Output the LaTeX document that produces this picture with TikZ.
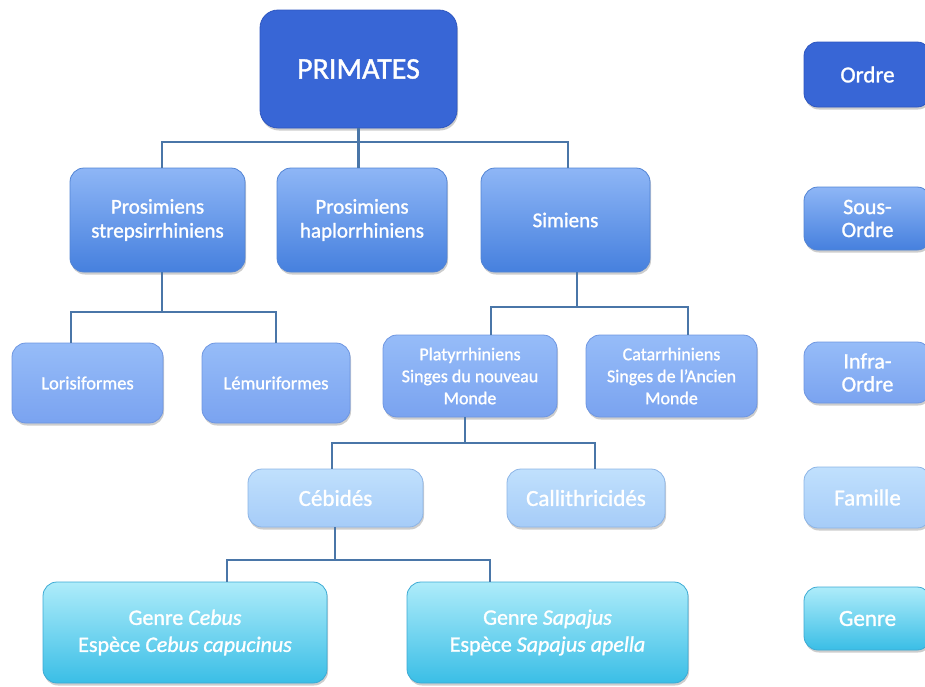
\documentclass[tikz,border=0pt]{standalone}
\usepackage{fontspec}
\setmainfont{Carlito}[FakeBold=1.2]
\usetikzlibrary{shadows}
\definecolor{cOrdre}{RGB}{56,102,214}
\definecolor{cOrdreB}{RGB}{45,86,192}
\definecolor{cSousT}{RGB}{142,182,246}
\definecolor{cSousB}{RGB}{70,128,222}
\definecolor{cSousBd}{RGB}{82,132,212}
\definecolor{cInfraT}{RGB}{150,188,248}
\definecolor{cInfraB}{RGB}{122,163,240}
\definecolor{cInfraBd}{RGB}{110,150,225}
\definecolor{cFamT}{RGB}{192,224,253}
\definecolor{cFamB}{RGB}{166,204,248}
\definecolor{cFamBd}{RGB}{140,180,230}
\definecolor{cGenT}{RGB}{174,236,250}
\definecolor{cGenB}{RGB}{58,190,230}
\definecolor{cGenBd}{RGB}{60,170,212}
\definecolor{cLine}{RGB}{74,118,168}
\begin{document}
\begin{tikzpicture}[x=1pt,y=-1pt,
  box/.style={rounded corners=14pt, align=center, text=white, inner sep=0pt,
    draw, line width=0.8pt,
    drop shadow={shadow xshift=1pt,shadow yshift=-2.5pt,opacity=0.28,fill=black!70}},
  ordrebox/.style={box, fill=cOrdre, draw=cOrdreB},
  sousbox/.style={box, top color=cSousT, bottom color=cSousB, draw=cSousBd},
  infrabox/.style={box, top color=cInfraT, bottom color=cInfraB, draw=cInfraBd},
  fambox/.style={box, top color=cFamT, bottom color=cFamB, draw=cFamBd},
  genbox/.style={box, top color=cGenT, bottom color=cGenB, draw=cGenBd},
  conn/.style={draw=cLine, line width=2.5pt}
]
\useasboundingbox (0,0) rectangle (925,686);
\clip (0,0) rectangle (925,686);

% main tree
\node[ordrebox, rounded corners=18pt, minimum width=197pt, minimum height=118pt,
  font=\fontsize{30}{34}\selectfont] (prim) at (358.5,69) {PRIMATES};

\node[sousbox, minimum width=175pt, minimum height=104pt,
  font=\fontsize{21}{24}\selectfont] (strep) at (157.5,220) {Prosimiens\\strepsirrhiniens};
\node[sousbox, minimum width=170pt, minimum height=104pt,
  font=\fontsize{21}{24}\selectfont] (haplo) at (362,220) {Prosimiens\\haplorrhiniens};
\node[sousbox, minimum width=169pt, minimum height=104pt,
  font=\fontsize{21}{24}\selectfont] (sim) at (565.5,220) {Simiens};

\node[infrabox, minimum width=151pt, minimum height=80pt,
  font=\fontsize{18.5}{22}\selectfont] (loris) at (87.5,383) {Lorisiformes};
\node[infrabox, minimum width=148pt, minimum height=80pt,
  font=\fontsize{18.5}{22}\selectfont] (lemur) at (276,383) {Lémuriformes};
\node[infrabox, minimum width=174pt, minimum height=82pt,
  font=\fontsize{18}{22}\selectfont] (platy) at (470,376) {Platyrrhiniens\\Singes du nouveau\\Monde};
\node[infrabox, minimum width=171pt, minimum height=82pt,
  font=\fontsize{18}{22}\selectfont] (cata) at (671.5,376) {Catarrhiniens\\Singes de l’Ancien\\Monde};

\node[fambox, minimum width=175pt, minimum height=58pt,
  font=\fontsize{23}{26}\selectfont] (cebides) at (335.5,498) {Cébidés};
\node[fambox, minimum width=158pt, minimum height=58pt,
  font=\fontsize{23}{26}\selectfont] (calli) at (586,498) {Callithricidés};

\node[genbox, minimum width=284pt, minimum height=101pt,
  font=\fontsize{22}{27}\selectfont] (cebus) at (185,632.5)
  {Genre {\itshape Cebus}\\Espèce {\itshape Cebus capucinus}};
\node[genbox, minimum width=281pt, minimum height=101pt,
  font=\fontsize{22}{27}\selectfont] (sapajus) at (547.5,632.5)
  {Genre {\itshape Sapajus}\\Espèce {\itshape Sapajus apella}};

% legend
\node[ordrebox, minimum width=127pt, minimum height=65pt,
  font=\fontsize{23}{25}\selectfont] (lordre) at (867.5,74.5) {Ordre};
\node[sousbox, minimum width=127pt, minimum height=63pt,
  font=\fontsize{22}{23}\selectfont] (lsous) at (867.5,218.5) {Sous-\\Ordre};
\node[infrabox, minimum width=127pt, minimum height=61pt,
  font=\fontsize{22}{23}\selectfont] (linfra) at (867.5,372.5) {Infra-\\Ordre};
\node[fambox, minimum width=127pt, minimum height=61pt,
  font=\fontsize{23}{25}\selectfont] (lfam) at (867.5,497.5) {Famille};
\node[genbox, minimum width=127pt, minimum height=63pt,
  font=\fontsize{23}{25}\selectfont] (lgen) at (867.5,618.5) {Genre};

% connector junctions
\coordinate (j1) at (162,142);
\coordinate (j2) at (568,142);
\coordinate (s1) at (162,312);
\coordinate (s2) at (71,312);
\coordinate (s3) at (276,312);
\coordinate (m1) at (577,307);
\coordinate (m2) at (491,307);
\coordinate (m3) at (688,307);
\coordinate (p1) at (465,443);
\coordinate (p2) at (332,443);
\coordinate (p3) at (595,443);
\coordinate (c1) at (335,560);
\coordinate (c2) at (227,560);
\coordinate (c3) at (490,560);

% connectors
\draw[conn] (strep.north -| j1) -- (j1) -- (j2) -- (sim.north -| j2);
\draw[conn] (prim.south) -- (haplo.north -| prim.south);

\draw[conn] (strep.south -| s1) -- (s1);
\draw[conn] (loris.north -| s2) -- (s2) -- (s3) -- (lemur.north -| s3);

\draw[conn] (sim.south -| m1) -- (m1);
\draw[conn] (platy.north -| m2) -- (m2) -- (m3) -- (cata.north -| m3);

\draw[conn] (platy.south -| p1) -- (p1);
\draw[conn] (cebides.north -| p2) -- (p2) -- (p3) -- (calli.north -| p3);

\draw[conn] (cebides.south -| c1) -- (c1);
\draw[conn] (cebus.north -| c2) -- (c2) -- (c3) -- (sapajus.north -| c3);
\end{tikzpicture}
\end{document}
